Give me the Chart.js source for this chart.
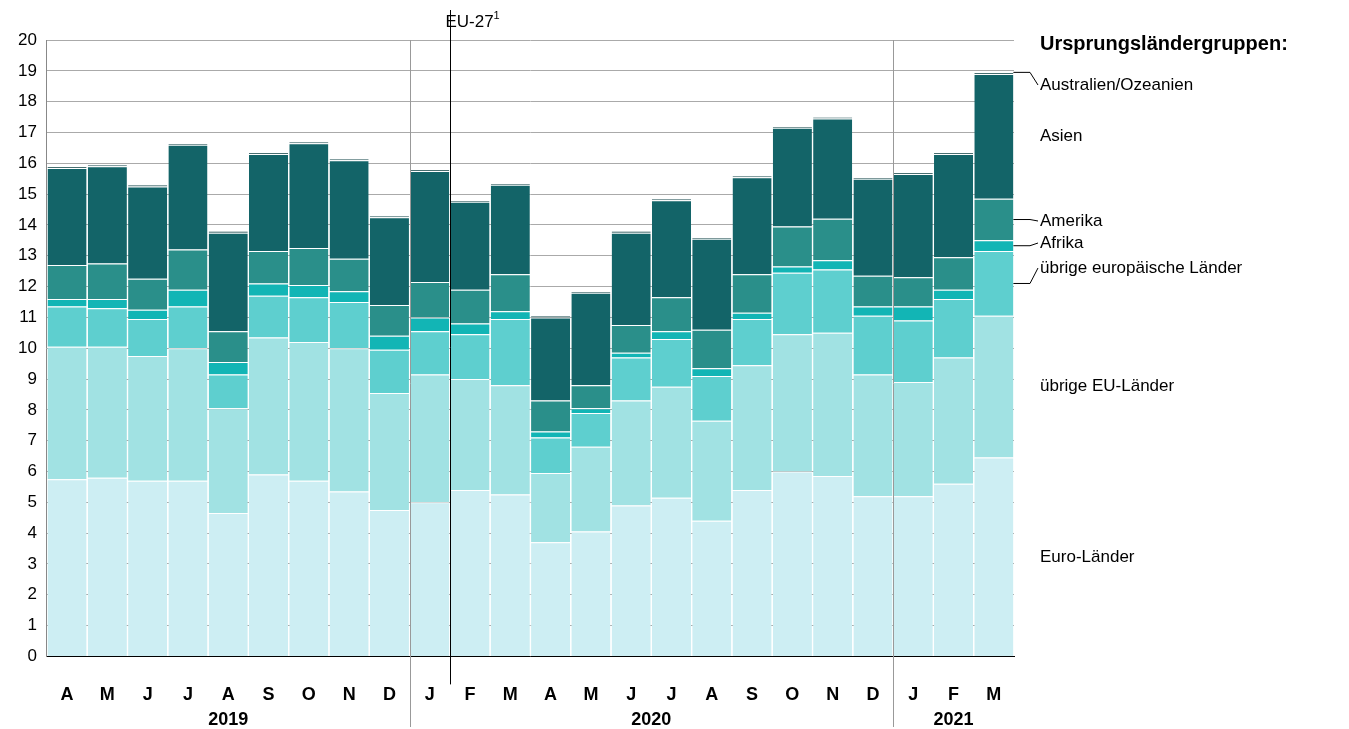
<!DOCTYPE html>
<html><head><meta charset="utf-8">
<script src="https://cdn.jsdelivr.net/npm/chart.js@4"></script>
<style>body{margin:0;background:#fff}#wrap{width:1349px;height:729px}</style>
</head><body><div id="wrap"><canvas id="c"></canvas></div>
<script>
const months = ["A","M","J","J","A","S","O","N","D","J","F","M","A","M","J","J","A","S","O","N","D","J","F","M"]
const years = [["2019",0,8],["2020",9,20],["2021",21,23]]
const euro = [5.75,5.8,5.7,5.7,4.65,5.9,5.7,5.35,4.75,5.0,5.4,5.25,3.7,4.05,4.9,5.15,4.4,5.4,6.0,5.85,5.2,5.2,5.6,6.45]
const eu = [4.3,4.25,4.05,4.3,3.4,4.45,4.5,4.65,3.8,4.15,3.6,3.55,2.25,2.75,3.4,3.6,3.25,4.05,4.45,4.65,3.95,3.7,4.1,4.6]
const europa = [1.3,1.25,1.2,1.35,1.1,1.35,1.45,1.5,1.4,1.4,1.45,2.15,1.15,1.1,1.4,1.55,1.45,1.5,2.0,2.05,1.9,2.0,1.9,2.1]
const afrika = [0.25,0.3,0.3,0.55,0.4,0.4,0.4,0.35,0.45,0.45,0.35,0.25,0.2,0.15,0.15,0.25,0.25,0.2,0.2,0.3,0.3,0.45,0.3,0.35]
const amerika = [1.1,1.15,1.0,1.3,1.0,1.05,1.2,1.05,1.0,1.15,1.1,1.2,1.0,0.75,0.9,1.1,1.25,1.25,1.3,1.35,1.0,0.95,1.05,1.35]
const asien = [3.15,3.15,3.0,3.4,3.2,3.15,3.4,3.2,2.85,3.6,2.85,2.9,2.7,3.0,3.0,3.15,2.95,3.15,3.2,3.25,3.15,3.35,3.35,4.05]
const ozeanien = [0.05,0.05,0.05,0.05,0.05,0.05,0.05,0.05,0.05,0.05,0.05,0.05,0.05,0.05,0.05,0.05,0.05,0.05,0.05,0.05,0.05,0.05,0.05,0.05]
const seriesNames = ["Euro-Länder","übrige EU-Länder","übrige europäische Länder","Afrika","Amerika","Asien","Australien/Ozeanien"]
const colors = ["#cdeef3","#a1e2e3","#5ecfcf","#12b5b5","#2a8f8a","#136468","#0b3f42"]
const FONT = "Liberation Sans, Arial, sans-serif"

const sets = [euro, eu, europa, afrika, amerika, asien, ozeanien].map((d, i) => ({
    label: seriesNames[i], data: d, backgroundColor: colors[i],
    borderColor: "#fff", borderWidth: {top: 1}, borderSkipped: "bottom",
    barPercentage: 0.97, categoryPercentage: 1
}))

const extras = {
    id: "extras",
    afterDraw(ch) {
        const c = ch.ctx, x = ch.scales.x, y = ch.scales.y, a = ch.chartArea
        const step = x.getPixelForValue(1) - x.getPixelForValue(0)
        c.save()
        c.strokeStyle = "#999"; c.lineWidth = 1
        ;[9, 21].forEach(i => {
            const px = Math.round(x.getPixelForValue(i) - step / 2) + 0.5
            c.beginPath(); c.moveTo(px, a.top); c.lineTo(px, 727); c.stroke()
        })
        c.strokeStyle = "#000"
        const bx = Math.round(x.getPixelForValue(10) - step / 2) + 0.5
        c.beginPath(); c.moveTo(bx, 10); c.lineTo(bx, a.bottom + 28); c.stroke()
        c.fillStyle = "#000"; c.font = "17px " + FONT; c.textBaseline = "alphabetic"
        c.fillText("EU-27", bx - 5, 27)
        c.font = "11px " + FONT; c.fillText("1", bx + 43, 19)
        c.font = "bold 18px " + FONT; c.textAlign = "center"
        years.forEach(([t, s, e]) => {
            c.fillText(t, (x.getPixelForValue(s) + x.getPixelForValue(e)) / 2, 725)
        })
        c.textAlign = "left"; c.font = "bold 20px " + FONT
        c.fillText("Ursprungsländergruppen:", 1040, 50)
        c.font = "17px " + FONT; c.textBaseline = "middle"
        const last = months.length - 1
        const re = x.getPixelForValue(last) + step * 0.485
        const all = [euro, eu, europa, afrika, amerika, asien, ozeanien]
        const cum = []; let s = 0
        all.forEach(d => { cum.push([s, s + d[last]]); s += d[last] })
        const mid = k => y.getPixelForValue((cum[k][0] + cum[k][1]) / 2)
        const labelY = [mid(0), mid(1), 268, 243, 221, mid(5), 85]
        c.strokeStyle = "#000"
        labelY.forEach((ly, k) => {
            if (k >= 2 && k != 5) {
                const sy = k == 6 ? y.getPixelForValue(cum[6][1]) : mid(k)
                c.beginPath(); c.moveTo(re, sy); c.lineTo(1030, sy)
                c.lineTo(1038, ly); c.stroke()
            }
            c.fillText(seriesNames[k], 1040, ly)
        })
        c.restore()
    }
}

new Chart("c", {
    type: "bar",
    data: {labels: months, datasets: sets},
    options: {
        responsive: true, maintainAspectRatio: false, animation: false,
        layout: {padding: {top: 40, right: 335, bottom: 3, left: 8}},
        plugins: {legend: {display: false}, tooltip: {enabled: false}},
        scales: {
            x: {stacked: true, grid: {display: false}, border: {color: "#000"},
                ticks: {color: "#000", font: {family: FONT, size: 18, weight: "bold"}, padding: 20}},
            y: {stacked: true, min: 0, max: 20, beginAtZero: true,
                grid: {color: "#aaa", drawTicks: false}, border: {display: true, color: "#888"},
                ticks: {stepSize: 1, color: "#000", padding: 10, font: {family: FONT, size: 17}}}
        }
    },
    plugins: [extras]
})
</script></body></html>
